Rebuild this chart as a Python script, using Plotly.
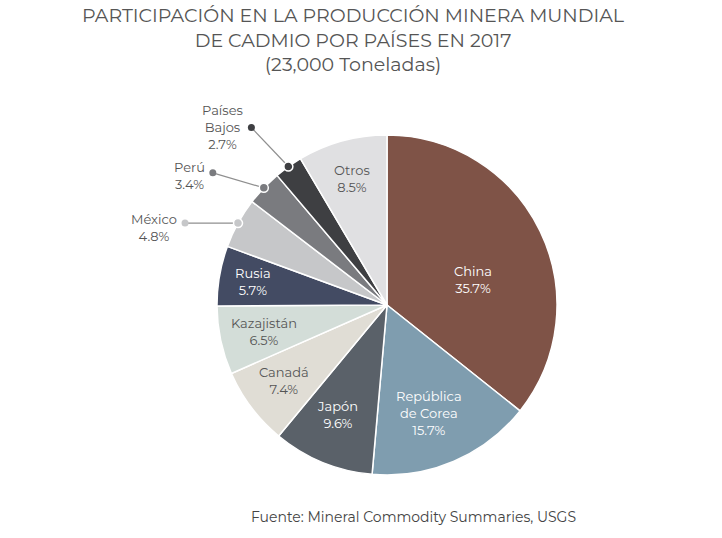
import math
import plotly.graph_objects as go

# Cadmium mine production share by country, 2017 (percent)
countries = ["China", "República de Corea", "Japón", "Canadá", "Kazajistán",
             "Rusia", "México", "Perú", "Países Bajos", "Otros"]
shares = [35.7, 15.7, 9.6, 7.4, 6.5, 5.7, 4.8, 3.4, 2.7, 8.5]
label_text = ["China", "República<br>de Corea", "Japón", "Canadá", "Kazajistán",
              "Rusia", "México", "Perú", "Países<br>Bajos", "Otros"]

colors = ["#7f5347", "#7f9daf", "#5a6169", "#e0ddd5", "#d3ddd8",
          "#434b63", "#c6c7c9", "#7a7b7f", "#3e3f42", "#e0e0e2"]
text_colors = ["white", "white", "white", "#555555", "#555555",
               "white", "#555555", "#555555", "#555555", "#555555"]

# label placement (fraction of radius, angle nudge in degrees); None = outside label
inside_pos = [(0.53, 9), (0.68, 2), (0.71, 2), (0.75, 1), (0.74, 0),
              (0.80, 0), None, None, None, (0.77, 0)]
# leader line offsets (px) and text nudge for outside labels
outside_offset = {6: (-53, 0, 4), 7: (-51, -15, 3), 8: (-37, -39, -1)}

W, H = 722, 538
cx, cy, R = 387, 305, 170

fig = go.Figure()

fig.add_trace(go.Pie(
    labels=countries,
    values=shares,
    sort=False,
    direction="clockwise",
    rotation=0,
    marker=dict(colors=colors, line=dict(color="white", width=1.5)),
    textinfo="none",
    hoverinfo="label+percent",
    showlegend=False,
    domain=dict(x=[(cx - R) / W, (cx + R) / W],
                y=[(H - cy - R) / H, (H - cy + R) / H]),
))

font = "Montserrat, 'Open Sans', sans-serif"
total = sum(shares)
cum = 0
annotations = []
shapes = []


def dot(x, y, r, fill, edge=None):
    return dict(type="circle", xref="x", yref="y", layer="above",
                x0=x - r, x1=x + r, y0=y - r, y1=y + r, fillcolor=fill,
                line=dict(color=edge or fill, width=1.5 if edge else 0))


for i, v in enumerate(shares):
    mid = (cum + v / 2) / total * 360
    cum += v
    txt = f"{label_text[i]}<br>{v:.1f}%"
    if inside_pos[i] is not None:
        frac, nudge = inside_pos[i]
        a = math.radians(mid + nudge)
        x = cx + frac * R * math.sin(a)
        y = cy - frac * R * math.cos(a)
        annotations.append(dict(x=x, y=y, xref="x", yref="y", text=txt,
                                showarrow=False, align="center",
                                font=dict(family=font, size=13, color=text_colors[i])))
    else:
        a = math.radians(mid)
        ex = cx + R * math.sin(a)
        ey = cy - R * math.cos(a)
        dx, dy, ty = outside_offset[i]
        ox, oy = ex + dx, ey + dy
        shapes.append(dict(type="line", xref="x", yref="y", layer="above",
                           x0=ex, y0=ey, x1=ox, y1=oy,
                           line=dict(color="#8f8f8f", width=1.2)))
        shapes.append(dot(ox, oy, 3.5, colors[i]))
        shapes.append(dot(ex, ey, 4.5, colors[i], "white"))
        annotations.append(dict(x=ox - 6, y=oy + ty, xref="x", yref="y", text=txt,
                                showarrow=False, align="center",
                                xanchor="right", yanchor="middle",
                                font=dict(family=font, size=13, color="#555555")))

annotations.append(dict(
    x=353, y=40, xref="x", yref="y", showarrow=False, align="center",
    text="PARTICIPACIÓN EN LA PRODUCCIÓN MINERA MUNDIAL<br>"
         "DE CADMIO POR PAÍSES EN 2017<br>(23,000 Toneladas)",
    font=dict(family=font, size=19, color="#555555")))
annotations.append(dict(
    x=413, y=517, xref="x", yref="y", showarrow=False,
    text="Fuente: Mineral Commodity Summaries, USGS",
    font=dict(family=font, size=14, color="#444444")))

fig.update_layout(
    width=W, height=H,
    margin=dict(l=0, r=0, t=0, b=0),
    paper_bgcolor="white",
    plot_bgcolor="rgba(0,0,0,0)",
    xaxis=dict(range=[0, W], visible=False, fixedrange=True),
    yaxis=dict(range=[H, 0], visible=False, fixedrange=True),
    annotations=annotations,
    shapes=shapes,
)

# drop the default 8px body margin so the figure fills the window
fig.write_html("out.html", config={"displayModeBar": False},
               post_script="document.body.style.margin='0';")
